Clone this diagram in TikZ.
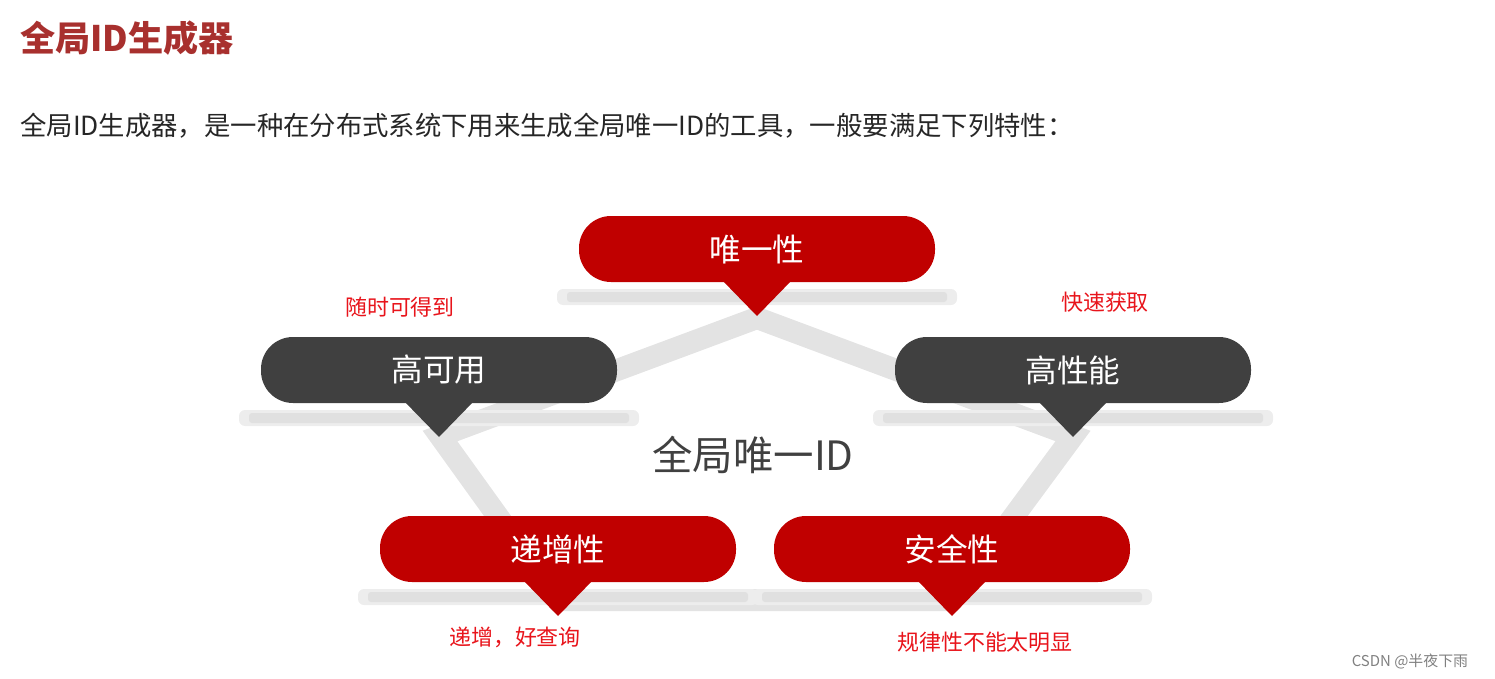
\documentclass[tikz,border=0pt]{standalone}
\usepackage{fontspec}
\setmainfont{Noto Sans CJK SC}
\usetikzlibrary{positioning}
\definecolor{boxred}{HTML}{C00000}
\definecolor{boxgray}{HTML}{404040}
\definecolor{titlered}{HTML}{A8302E}
\definecolor{notered}{HTML}{E8141B}
\tikzset{
  box/.style={rectangle, rounded corners=32\px, minimum width=356\px, minimum height=66\px, text=white, font=\fontsize{18}{21}\selectfont},
  note/.style={text=notered, font=\fontsize{12.5}{15}\selectfont},
  band/.style={draw=gray!22, line width=22\px, line join=miter}
}
\newlength{\px}\setlength{\px}{0.02cm}
% callout: name, colour, center x, center y
\newcommand{\callout}[5]{
  \fill[gray!14, rounded corners=6\px] (#3-200, #4+40) rectangle (#3+200, #4+56);
  \fill[gray!24, rounded corners=3\px] (#3-190, #4+43) rectangle (#3+190, #4+53);
  \node[box, fill=#2] (#1) at (#3,#4) {#5};
  \fill[#2] (#3-36, #4+30) -- (#3+36, #4+30) -- (#3, #4+67) -- cycle;
  \coordinate (#1tip) at (#3, #4+67);
}
\begin{document}
\begin{tikzpicture}[x=\px, y=-\px, inner sep=0pt]
  \useasboundingbox (0,0) rectangle (1495,679);
  % Place texts
  \node[anchor=west, text=titlered, font=\fontsize{20}{23}\selectfont\bfseries] (title) at (20,38) {全局ID生成器};
  \node[anchor=west, text=black!85, font=\fontsize{15}{18}\selectfont] (intro) at (20,126) {全局ID生成器，是一种在分布式系统下用来生成全局唯一ID的工具，一般要满足下列特性：};
  % Pentagon band
  \draw[band] (757,318) -- (1073,436) -- (952,600) -- (558,600) -- (440,436) -- cycle;
  % Place callouts
  \callout{uniq}{boxred}{757}{249}{唯一性}
  \callout{avail}{boxgray}{439}{370}{高可用}
  \callout{perf}{boxgray}{1073}{370}{高性能}
  \callout{incr}{boxred}{558}{549}{递增性}
  \callout{safe}{boxred}{952}{549}{安全性}
  \node[text=boxgray, font=\fontsize{23}{26}\selectfont] (center) at (753,455) {全局唯一ID};
  % Notes
  \node[note] (availnote) at (400,307) {随时可得到};
  \node[note] (perfnote) at (1105,302) {快速获取};
  \node[note] (incrnote) at (515,637) {递增，好查询};
  \node[note] (safenote) at (985,642) {规律性不能太明显};
  \node[text=gray, font=\fontsize{8.5}{10}\selectfont] (mark) at (1410,661) {CSDN @半夜下雨};
\end{tikzpicture}
\end{document}
